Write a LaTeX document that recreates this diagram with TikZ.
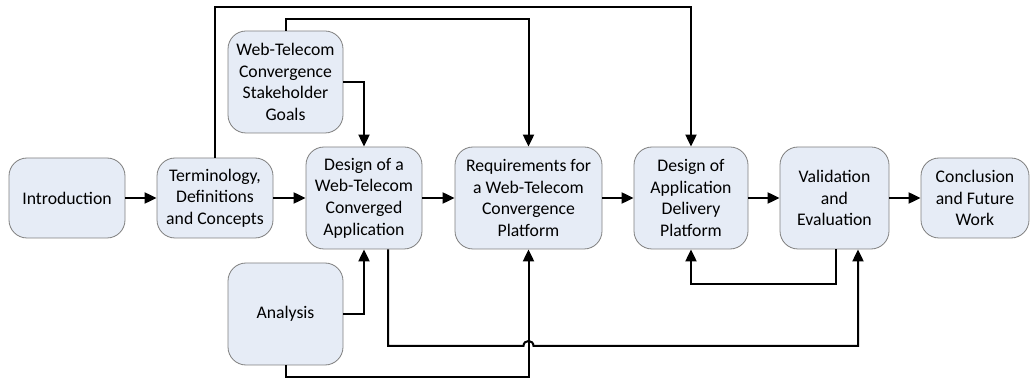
\documentclass[tikz,border=0pt]{standalone}
\usepackage{fontspec}
\setmainfont{Carlito}
\usetikzlibrary{arrows.meta,calc}
\definecolor{boxfill}{HTML}{E6ECF6}
\definecolor{boxline}{HTML}{7F7F7F}
\begin{document}
\begin{tikzpicture}[x=1pt,y=-1pt,
  box/.style={draw=boxline,line width=0.8pt,fill=boxfill,rounded corners=18pt,
    inner sep=0pt,align=center,font=\fontsize{17.7}{21.6}\selectfont},
  arr/.style={line width=2pt,-{Triangle[length=12pt,width=11pt]}},
  ln/.style={line width=2pt}]
\useasboundingbox (0,0) rectangle (1034,379);
\node[box,minimum width=116pt,minimum height=80pt] (intro) at (67,198) {Introduction};
\node[box,minimum width=116pt,minimum height=80pt] (term) at (215,198) {Terminology,\\Definitions\\and Concepts};
\node[box,minimum width=115pt,minimum height=102pt] (goals) at (285.5,82) {Web-Telecom\\Convergence\\Stakeholder\\Goals};
\node[box,minimum width=116pt,minimum height=102pt] (dwtca) at (364,198) {Design of a\\Web-Telecom\\Converged\\Application};
\node[box,minimum width=115pt,minimum height=102pt] (analysis) at (285.5,314) {Analysis};
\node[box,minimum width=147pt,minimum height=102pt] (req) at (528.5,198) {Requirements for\\a Web-Telecom\\Convergence\\Platform};
\node[box,minimum width=114pt,minimum height=102pt] (dadp) at (691,198) {Design of\\Application\\Delivery\\Platform};
\node[box,minimum width=109pt,minimum height=102pt] (val) at (834.5,198) {Validation\\and\\Evaluation};
\node[box,minimum width=108pt,minimum height=80pt] (concl) at (975,198) {Conclusion\\and Future\\Work};
\coordinate (topA) at (0,7);
\coordinate (topB) at (0,19);
\coordinate (lowA) at (0,284);
\coordinate (lowB) at (0,346);
\coordinate (lowC) at (0,377);
% main flow
\draw[arr] (intro.east) -- (term.west);
\draw[arr] (term.east) -- (dwtca.west);
\draw[arr] (dwtca.east) -- (req.west);
\draw[arr] (req.east) -- (dadp.west);
\draw[arr] (dadp.east) -- (val.west);
\draw[arr] (val.east) -- (concl.west);
% side inputs
\draw[arr] (goals.east) -| (dwtca.north);
\draw[arr] (analysis.east) -| (dwtca.south);
% top loops
\draw[arr] (term.north) -- (term.north |- topA) -| (dadp.north);
\draw[arr] (goals.north) -- (goals.north |- topB) -| (req.north);
% bottom loops
\draw[arr] (analysis.south) -- (analysis.south |- lowC) -| (req.south);
\draw[arr] ([xshift=1.5pt]val.south) -- ([xshift=1.5pt]val.south |- lowA) -| (dadp.south);
\coordinate (dws) at ([xshift=24pt]dwtca.south);
\coordinate (vs) at ([xshift=23.5pt]val.south);
\coordinate (j1) at ([xshift=-5pt]req.south |- lowB);
\coordinate (j2) at ([xshift=5pt]req.south |- lowB);
\draw[arr] (dws) -- (dws |- lowB) -- (j1)
  .. controls ($(j1)+(0,-6.67)$) and ($(j2)+(0,-6.67)$) .. (j2)
  -- (vs |- lowB) -- (vs);
\end{tikzpicture}
\end{document}
